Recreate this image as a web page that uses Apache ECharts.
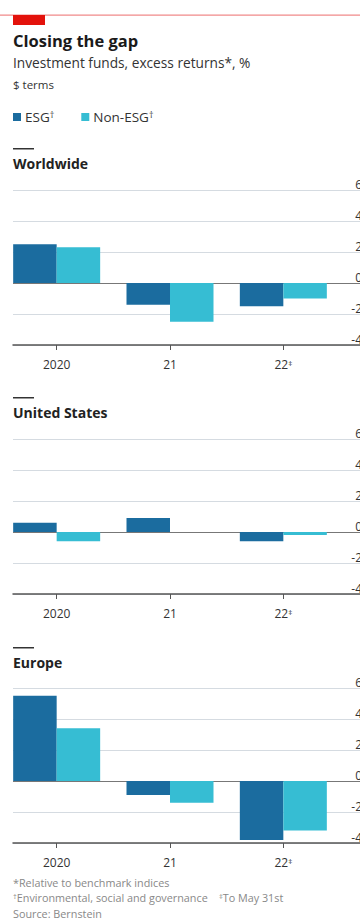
<!DOCTYPE html>
<html>
<head>
<meta charset="utf-8">
<title>Closing the gap</title>
<script src="https://cdn.jsdelivr.net/npm/echarts@6/dist/echarts.min.js"></script>
<style>
  html, body { margin: 0; padding: 0; background: #fff; }
  #chart { width: 360px; height: 921px; }
</style>
</head>
<body>
<div id="chart"></div>
<script>
// Excess returns relative to benchmark indices, %, in $ terms
const categories = ['2020', '21', '22‡'];
const seriesNames = ['ESG', 'Non-ESG'];
const yMin = -4;
const yMax = 6;
const yStep = 2;

const worldwideEsg = [2.5, -1.4, -1.5];
const worldwideNonEsg = [2.3, -2.5, -1.0];
const usEsg = [0.6, 0.9, -0.6];
const usNonEsg = [-0.6, 0, -0.2];
const europeEsg = [5.5, -0.9, -3.8];
const europeNonEsg = [3.4, -1.4, -3.2];

const panelTitles = ['Worldwide', 'United States', 'Europe'];
const panelValues = [
  [worldwideEsg, worldwideNonEsg],
  [usEsg, usNonEsg],
  [europeEsg, europeNonEsg]
];

const FONT = '"Open Sans", Roboto, sans-serif';
const COLORS = ['#1b6c9f', '#36bdd3'];
const GRID_COLOR = '#d5dbe1';
const ZERO_COLOR = '#777777';
const AXIS_COLOR = '#555555';

// vertical placement of each panel's plot area (top = value 6, bottom = value -4)
const panelTops = [190, 439, 688];
const plotHeight = 155;
const titleTops = [156, 405, 655];

const grids = [];
const xAxes = [];
const yAxes = [];
const series = [];
const titles = [];
const graphics = [];

// split-line colours, one per tick from min to max; the zero line is darker
const splitColors = [];
for (let v = yMin; v <= yMax; v += yStep) splitColors.push(v === 0 ? ZERO_COLOR : GRID_COLOR);

panelTitles.forEach((name, p) => {
  const top = panelTops[p];
  // grid for the bars
  grids.push({ left: 0, width: 340, top: top, height: plotHeight, outerBoundsMode: 'none', containLabel: false });
  // grid for gridlines, value labels and the base axis line (runs past the right edge)
  grids.push({ left: 13, width: 352, top: top, height: plotHeight, outerBoundsMode: 'none', containLabel: false });

  const gBar = 2 * p;
  const gLine = 2 * p + 1;

  xAxes.push({
    type: 'category',
    gridIndex: gBar,
    data: categories,
    axisLine: { show: false, onZero: false },
    axisTick: { show: true, alignWithLabel: true, length: 5, lineStyle: { color: AXIS_COLOR, width: 1 } },
    axisLabel: {
      margin: 13,
      color: '#333',
      fontFamily: FONT,
      fontSize: 12,
      formatter: v => v.replace('‡', '{s|‡}'),
      rich: { s: { fontSize: 8, verticalAlign: 'top', color: '#333', fontFamily: FONT } }
    },
    splitLine: { show: false }
  });
  xAxes.push({
    type: 'value',
    gridIndex: gLine,
    min: 0,
    max: 1,
    position: 'bottom',
    axisLine: { show: true, onZero: false, lineStyle: { color: AXIS_COLOR, width: 1.5 } },
    axisTick: { show: false },
    axisLabel: { show: false },
    splitLine: { show: false }
  });

  yAxes.push({
    type: 'value',
    gridIndex: gBar,
    min: yMin,
    max: yMax,
    interval: yStep,
    show: false
  });
  yAxes.push({
    type: 'value',
    gridIndex: gLine,
    min: yMin,
    max: yMax,
    interval: yStep,
    position: 'right',
    axisLine: { show: false },
    axisTick: { show: false },
    axisLabel: {
      inside: true,
      margin: 3,
      align: 'right',
      verticalAlign: 'bottom',
      color: '#333',
      fontFamily: FONT,
      fontSize: 12
    },
    splitLine: { show: true, lineStyle: { color: splitColors, width: 1 } }
  });

  panelValues[p].forEach((vals, s) => {
    series.push({
      name: seriesNames[s],
      type: 'bar',
      xAxisIndex: gBar,
      yAxisIndex: gBar,
      data: vals,
      barWidth: 43.5,
      barGap: '0%',
      itemStyle: { color: COLORS[s] },
      emphasis: { disabled: true },
      animation: false
    });
  });

  titles.push({
    text: name,
    left: 13,
    top: titleTops[p],
    padding: 0,
    textStyle: { fontFamily: FONT, fontSize: 14, fontWeight: 'bold', color: '#222' }
  });
  // short rule above each panel title
  graphics.push({
    type: 'rect',
    shape: { x: 13, y: titleTops[p] - 8, width: 21, height: 1.5 },
    style: { fill: '#333' }
  });
});

// header
titles.push(
  { text: 'Closing the gap', left: 13, top: 32, padding: 0,
    textStyle: { fontFamily: FONT, fontSize: 16.5, fontWeight: 'bold', color: '#1a1a1a' } },
  { text: 'Investment funds, excess returns*, %', left: 13, top: 55, padding: 0,
    textStyle: { fontFamily: FONT, fontSize: 13.7, fontWeight: 'normal', color: '#333' } },
  { text: '$ terms', left: 13, top: 78, padding: 0,
    textStyle: { fontFamily: FONT, fontSize: 11.5, fontWeight: 'normal', color: '#333' } }
);

// footnotes
const noteStyle = { fontFamily: FONT, fontSize: 10.8, fontWeight: 'normal', color: '#888',
  rich: { s: { fontSize: 7.5, verticalAlign: 'top', color: '#888', fontFamily: FONT } } };
titles.push(
  { text: '*Relative to benchmark indices', left: 13, top: 877, padding: 0, textStyle: noteStyle },
  { text: '{s|†}Environmental, social and governance    {s|‡}To May 31st', left: 13, top: 892, padding: 0, textStyle: noteStyle },
  { text: 'Source: Bernstein', left: 13, top: 907.5, padding: 0, textStyle: noteStyle }
);

// red top rule and tag
graphics.push(
  { type: 'rect', shape: { x: 0, y: 14.5, width: 360, height: 1.3 }, style: { fill: '#f08a8a' } },
  { type: 'rect', shape: { x: 13, y: 15, width: 32, height: 10 }, style: { fill: '#e3120b' } }
);

const chart = echarts.init(document.getElementById('chart'), null, { renderer: 'svg', width: 360, height: 921 });
chart.setOption({
  animation: false,
  backgroundColor: '#fff',
  title: titles,
  legend: {
    data: seriesNames,
    left: 13,
    top: 110,
    padding: 0,
    icon: 'rect',
    itemWidth: 8,
    itemHeight: 8,
    itemGap: 27,
    selectedMode: false,
    formatter: n => n + '{s|†}',
    textStyle: {
      fontFamily: FONT, fontSize: 13.5, color: '#333', padding: [0, 0, 0, -1],
      rich: { s: { fontSize: 9, verticalAlign: 'top', color: '#333', fontFamily: FONT } }
    }
  },
  grid: grids,
  xAxis: xAxes,
  yAxis: yAxes,
  series: series,
  graphic: graphics
});
</script>
</body>
</html>
